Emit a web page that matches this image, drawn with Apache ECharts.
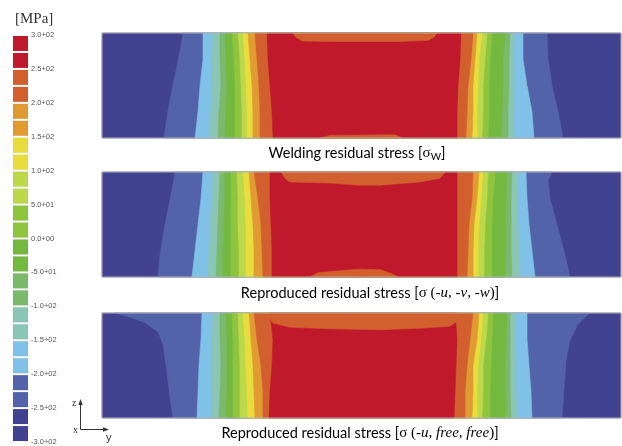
<!DOCTYPE html>
<html><head><meta charset="utf-8">
<script src="https://cdn.jsdelivr.net/npm/echarts/dist/echarts.min.js"></script>
<style>html,body{margin:0;padding:0;background:#fff}#c{width:622px;height:446px}</style>
</head><body><div id="c"></div>
<script>
// ---- colour scale (MPa) ----
const levelBounds = [-300,-250,-200,-150,-100,-50,0,50,100,150,200,250,300];
const levelColors = ['#414290','#5363a9','#80c1e7','#8bc5b5','#7bb96b','#73b940','#8fc53e','#bdd84b','#e9dd3e','#e09b33','#d2602e','#c1192c'];
const colorbarSwatches = [[275,300],[250,275],[225,250],[200,225],[175,200],[150,175],[125,150],[100,125],[75,100],[50,75],[25,50],[0,25],
  [-25,0],[-50,-25],[-75,-50],[-100,-75],[-125,-100],[-150,-125],[-175,-150],[-200,-175],[-225,-200],[-250,-225],[-275,-250],[-300,-275]];
const colorbarTickValues = [300,250,200,150,100,50,0,-50,-100,-150,-200,-250,-300];
const colorbarTickLabels = ['3.0+02','2.5+02','2.0+02','1.5+02','1.0+02','5.0+01','0.0+00','-5.0+01','-1.0+02','-1.5+02','-2.0+02','-2.5+02','-3.0+02'];

// ---- plate section: horizontal position (0..519) and thickness (%) ----
const plateY = [0, 519];
const plateZ = [0, 100];
const zLevels = [100, 75, 50, 25, 0];

// contour boundaries: index k-1 = edge of region where stress >= levelBounds[k]
// Panel 1: welding residual stress
const weldLeft = [
  [[81,100],[78,83],[74,64],[70,46],[66,26],[62,0]],
  [101,101,98,96,93],
  [111,110,110,109,108],
  [118,118,119,117,116],
  [123,124,125,124,123],
  [130,132,133,133,133],
  [136,138,139,140,140],
  [141,143,144,145,145],
  [146,148,150,151,151],
  [153,155,157,158,158],
  [165,166,168,170,171]
];
const weldRight = [
  [445,446,450,456,461],
  [421,421,425,430,432],
  [412,412,412,412,412],
  [408,407,407,406,406],
  [403,401,401,400,399],
  [390,388,387,387,386],
  [385,383,381,381,380],
  [380,377,376,375,375],
  [375,373,371,371,370],
  [371,369,366,365,364],
  [359,358,356,355,355]
];
const weldStrips = [
  [[191,100],[194,96],[200,92.5],[228,92],[298,92],[326,93],[332,96],[335,100]],
  [[218,0],[228,2.5],[293,3],[300,0]]
];

// Panel 2: reproduced, sigma(-u,-v,-w)
const uvwLeft = [
  [[73,100],[70,83],[66,64],[62,45],[58,21],[56,0]],
  [101,99,96,93,90],
  [111,110,108,107,106],
  [118,117,116,115,114],
  [123,123,122,121,121],
  [129,129,129,129,129],
  [135,136,136,137,137],
  [141,143,144,144,144],
  [147,149,151,152,152],
  [152,156,159,160,161],
  [168,168,169,170,170]
];
const uvwRight = [
  [[450,100],[446,92],[448,75],[455,50],[462,25],[468,0]],
  [424,425,427,430,433],
  [416,416,416,417,418],
  [410,409,409,409,410],
  [405,404,403,403,403],
  [393,391,390,390,390],
  [386,385,383,382,382],
  [381,379,377,376,376],
  [377,375,372,371,371],
  [371,370,367,366,365],
  [355,355,355,355,355]
];
const uvwStrips = [
  [[179,100],[183,94],[188,90.5],[228,89.5],[258,87.5],[278,87.5],[318,90.5],[338,94],[343,100]],
  [[208,0],[216,4],[238,6],[258,7.5],[278,7],[290,3],[296,0]]
];

// Panel 3: reproduced, sigma(-u,free,free)
const freeLeft = [
  [[13,100],[28,96],[43,91],[56,82],[61,70],[65,44],[68,19],[71,0]],
  [100,99,97,96,95],
  [111,110,110,110,110],
  [118,118,119,118,117],
  [124,125,125,125,124],
  [130,131,131,131,131],
  [136,137,138,138,138],
  [141,143,144,145,146],
  [147,149,151,152,153],
  [152,155,159,161,161],
  [168,171,170,168,167]
];
const freeRight = [
  [[488,100],[476,89.5],[468,74],[464,55],[462,27],[460,0]],
  [425,425,427,429,430],
  [413,413,414,414,415],
  [408,408,408,408,409],
  [405,404,403,403,403],
  [391,390,389,388,388],
  [386,384,381,381,380],
  [381,379,376,375,375],
  [377,375,371,371,370],
  [371,368,365,363,363],
  [353,355,354,353,352]
];
const freeStrips = [
  [[164,100],[168,95],[171,90.5],[188,86.5],[228,85],[278,84],[318,85.5],[348,87.5],[354,91.5],[357,100]]
];

// ---- build polygons ----
function edgePoints(e){ return e.map((v,i)=> Array.isArray(v) ? v : [v, zLevels[i]]); }
function buildPanel(left, right, strips){
  const rect = [[plateY[0],plateZ[0]],[plateY[1],plateZ[0]],[plateY[1],plateZ[1]],[plateY[0],plateZ[1]]];
  const polys = [{points: rect, fill: levelColors[0]}];
  for (let k = 1; k < levelColors.length; k++){
    const L = edgePoints(left[k-1]);
    const R = edgePoints(right[k-1]).slice().reverse();
    polys.push({points: L.concat(R), fill: levelColors[k]});
  }
  strips.forEach(s => polys.push({points: s, fill: levelColors[10]}));
  polys.push({points: rect, fill: 'none', stroke: '#b4b4b4', lineWidth: 1});
  return polys;
}
const panels = [
  buildPanel(weldLeft, weldRight, weldStrips),
  buildPanel(uvwLeft, uvwRight, uvwStrips),
  buildPanel(freeLeft, freeRight, freeStrips)
];

function panelSeries(i){
  const polys = panels[i];
  return {
    type: 'custom', xAxisIndex: i, yAxisIndex: i, silent: true, animation: false, clip: false,
    data: polys.map((p, j) => [j]),
    renderItem(params, api){
      const p = polys[params.dataIndex];
      const pts = p.points.map(pt => api.coord(pt));
      return {type: 'polygon', shape: {points: pts},
        style: {fill: p.fill, stroke: p.stroke || p.fill, lineWidth: p.lineWidth || 0.6}};
    }
  };
}

function swatchColor(low){
  let idx = 0;
  for (let i = 0; i < levelBounds.length - 1; i++) if (low >= levelBounds[i]) idx = i;
  return levelColors[idx];
}

const chart = echarts.init(document.getElementById('c'), null, {renderer: 'canvas'});
const panelTops = [33, 172, 313];
const grids = panelTops.map(t => ({left: 102, top: t, width: 519, height: 105, show: false}));
grids.push({left: 13, top: 35, width: 15, height: 407, show: false});

const hiddenX = i => ({gridIndex: i, type: 'value', min: plateY[0], max: plateY[1], show: false});
const hiddenZ = i => ({gridIndex: i, type: 'value', min: plateZ[0], max: plateZ[1], show: false});

const sansFont = 'Lato';
const serifFont = 'Liberation Serif';
const rich = {
  n: {fontFamily: sansFont, fontSize: 14.5, color: '#222'},
  s: {fontFamily: serifFont, fontSize: 15, color: '#222'},
  i: {fontFamily: serifFont, fontSize: 15, fontStyle: 'italic', color: '#222'},
  sub: {fontFamily: sansFont, fontSize: 10, color: '#222', padding: [7, 0, 0, 0]}
};
const captions = [
  '{n|Welding residual stress [}{s|σ}{sub|W}{n|]}',
  '{n|Reproduced residual stress [}{s|σ (-}{i|u}{s|, -}{i|v}{s|, -}{i|w}{s|)}{n|]}',
  '{n|Reproduced residual stress [}{s|σ (-}{i|u}{s|, }{i|free}{s|, }{i|free}{s|)}{n|]}'
];
const captionCenters = [[357, 153], [370, 293], [360, 433]];

chart.setOption({
  animation: false,
  backgroundColor: '#fff',
  grid: grids,
  xAxis: [hiddenX(0), hiddenX(1), hiddenX(2), {gridIndex: 3, type: 'value', min: 0, max: 1, show: false}],
  yAxis: [hiddenZ(0), hiddenZ(1), hiddenZ(2), {
    gridIndex: 3, type: 'value', min: -300, max: 300, interval: 50, position: 'right',
    axisLine: {show: false}, axisTick: {show: false}, splitLine: {show: false},
    axisLabel: {margin: 3, fontSize: 7.5, color: '#555', fontFamily: 'Liberation Sans',
      formatter: v => { const j = colorbarTickValues.indexOf(v); return j >= 0 ? colorbarTickLabels[j] : ''; }}
  }],
  series: [panelSeries(0), panelSeries(1), panelSeries(2), {
    type: 'custom', xAxisIndex: 3, yAxisIndex: 3, silent: true, animation: false,
    data: colorbarSwatches,
    renderItem(params, api){
      const low = api.value(0), high = api.value(1);
      const a = api.coord([0, high]), b = api.coord([1, low]);
      return {type: 'rect', shape: {x: a[0], y: a[1] + 1, width: b[0] - a[0], height: b[1] - a[1] - 2},
        style: {fill: swatchColor(low), stroke: 'rgba(0,0,0,0.08)', lineWidth: 0.5}};
    }
  }],
  graphic: [
    {type: 'text', left: 15, top: 12, style: {text: '[MPa]', font: '15px "Liberation Serif"', fill: '#333'}},
    // coordinate triad
    {type: 'polyline', shape: {points: [[80.5, 404], [80.5, 429.5], [105, 429.5]]}, style: {stroke: '#333', lineWidth: 1, fill: 'none'}},
    {type: 'polygon', shape: {points: [[80.5, 399], [78.3, 405], [82.7, 405]]}, style: {fill: '#333'}},
    {type: 'polygon', shape: {points: [[109, 429.5], [103, 427.3], [103, 431.7]]}, style: {fill: '#333'}},
    {type: 'text', x: 72, y: 398, style: {text: 'z', font: '10px "Liberation Serif"', fill: '#333'}},
    {type: 'text', x: 73, y: 425, style: {text: 'x', font: '10px "Liberation Serif"', fill: '#333'}},
    {type: 'text', x: 106, y: 432, style: {text: 'y', font: '11px "Liberation Sans"', fill: '#333'}}
  ].concat(captions.map((c, i) => ({
    type: 'text', x: captionCenters[i][0], y: captionCenters[i][1],
    style: {text: c, rich: rich, align: 'center', verticalAlign: 'middle'}
  })))
});
</script>
</body></html>
